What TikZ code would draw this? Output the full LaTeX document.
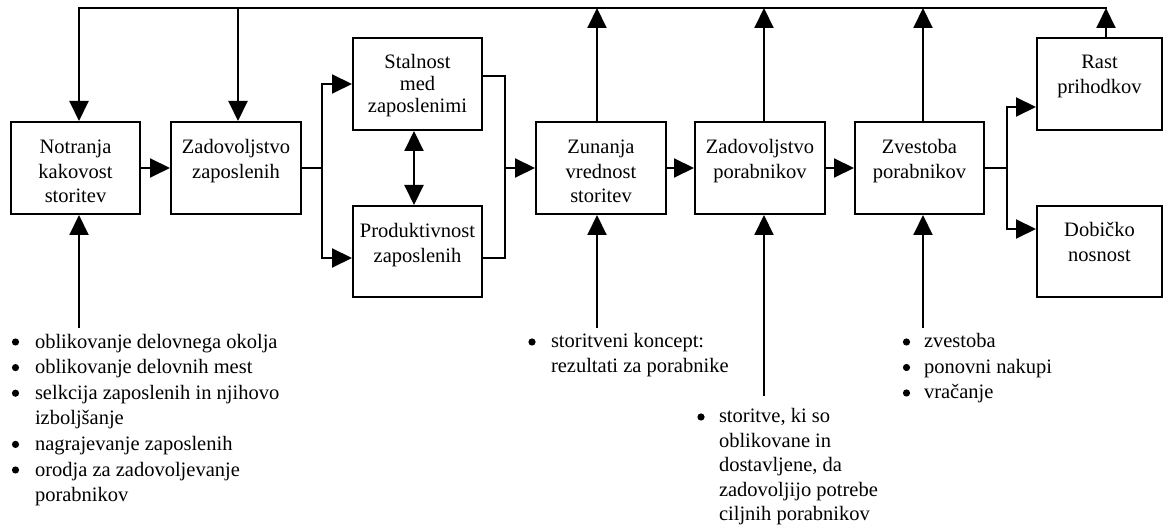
\documentclass[tikz,border=0pt]{standalone}
\usepackage{fontspec}
\setmainfont{Liberation Serif}
\usetikzlibrary{arrows.meta}
\begin{document}
\begin{tikzpicture}[x=1pt,y=-1pt,line width=2pt,line cap=rect,
  box/.style={draw,line width=2pt,inner sep=0pt},
  btxt/.style={font=\fontsize{20.5}{24.5}\selectfont,align=center,inner sep=0pt,anchor=north},
  ltxt/.style={align=left,inner sep=0pt,anchor=north west},
  arr/.style={-{Triangle[length=20pt,width=19pt]}},
  darr/.style={{Triangle[length=20pt,width=19pt]}-{Triangle[length=20pt,width=19pt]}}]
\useasboundingbox (0,0) rectangle (1163,526);
% boxes
\node[box,minimum width=129pt,minimum height=92pt] (n1) at (75.5,168) {};
\node[box,minimum width=130pt,minimum height=92pt] (n2) at (236,168) {};
\node[box,minimum width=129pt,minimum height=92pt] (n3) at (417.5,84) {};
\node[box,minimum width=129pt,minimum height=91pt] (n4) at (417.5,251.5) {};
\node[box,minimum width=130pt,minimum height=92pt] (n5) at (601,168) {};
\node[box,minimum width=130pt,minimum height=92pt] (n6) at (760,168) {};
\node[box,minimum width=129pt,minimum height=92pt] (n7) at (919.5,168) {};
\node[box,minimum width=125pt,minimum height=92pt] (n8) at (1099.5,84) {};
\node[box,minimum width=125pt,minimum height=91pt] (n9) at (1099.5,251.5) {};
% box texts
\node[btxt] (n1t) at (75.5,138) {\rule{0pt}{15pt}Notranja\\kakovost\\storitev};
\node[btxt] (n2t) at (236,138) {\rule{0pt}{15pt}Zadovoljstvo\\zaposlenih};
\node[btxt,font=\fontsize{20.5}{22}\selectfont] (n3t) at (417.5,53) {\rule{0pt}{15pt}Stalnost\\med\\zaposlenimi};
\node[btxt] (n4t) at (417.5,222) {\rule{0pt}{15pt}Produktivnost\\zaposlenih};
\node[btxt] (n5t) at (601,138) {\rule{0pt}{15pt}Zunanja\\vrednost\\storitev};
\node[btxt] (n6t) at (760,138) {\rule{0pt}{15pt}Zadovoljstvo\\porabnikov};
\node[btxt] (n7t) at (919.5,138) {\rule{0pt}{15pt}Zvestoba\\porabnikov};
\node[btxt] (n8t) at (1099.5,53) {\rule{0pt}{15pt}Rast\\prihodkov};
\node[btxt] (n9t) at (1099.5,221) {\rule{0pt}{15pt}Dobičko\\nosnost};
% bullet lists
\node[ltxt,font=\fontsize{20.5}{25.6}\selectfont] (l1) at (34,332) {\rule{0pt}{15pt}oblikovanje delovnega okolja\\oblikovanje delovnih mest\\selkcija zaposlenih in njihovo\\izboljšanje\\nagrajevanje zaposlenih\\orodja za zadovoljevanje\\porabnikov};
\node[ltxt,font=\fontsize{20.5}{25}\selectfont] (l2) at (550,332) {\rule{0pt}{15pt}storitveni koncept:\\rezultati za porabnike};
\node[ltxt,font=\fontsize{20.5}{24.5}\selectfont] (l3) at (718,407) {\rule{0pt}{15pt}storitve, ki so\\oblikovane in\\dostavljene, da\\zadovoljijo potrebe\\ciljnih porabnikov};
\node[ltxt,font=\fontsize{20.5}{25.5}\selectfont] (l4) at (923,332) {\rule{0pt}{15pt}zvestoba\\ponovni nakupi\\vračanje};
\foreach \y in {342,367.6,393.2,444.4,470} \fill (15.5,\y) circle (3.6pt);
\fill (532,342) circle (3.6pt);
\fill (701,417) circle (3.6pt);
\foreach \y in {342,367.5,393} \fill (906.5,\y) circle (3.6pt);
% feedback line on top
\coordinate (t1) at (79,8);
\coordinate (t2) at (238,8);
\coordinate (t5) at (597,8);
\coordinate (t6) at (764,8);
\coordinate (t7) at (923,8);
\coordinate (t8) at (1106,8);
\draw (t1) -- (t8);
\draw[arr] (t1) -- (t1 |- n1.north);
\draw[arr] (t2) -- (t2 |- n2.north);
\draw[arr] (t5 |- n5.north) -- (t5);
\draw[arr] (t6 |- n6.north) -- (t6);
\draw[arr] (t7 |- n7.north) -- (t7);
\draw[arr] (t8 |- n8.north) -- (t8);
% inputs from below
\coordinate (b1) at (79,327);
\coordinate (b5) at (597,327);
\coordinate (b6) at (764,395);
\coordinate (b7) at (923,327);
\draw[arr] (b1) -- (b1 |- n1.south);
\draw[arr] (b5) -- (b5 |- n5.south);
\draw[arr] (b6) -- (b6 |- n6.south);
\draw[arr] (b7) -- (b7 |- n7.south);
% main chain
\draw[arr] (n1.east) -- (n2.west);
\coordinate (s0) at (322,168);
\coordinate (s1) at (322,84);
\coordinate (s2) at (322,258);
\draw (n2.east) -- (s0);
\draw (s1) -- (s2);
\draw[arr] (s1) -- (s1 -| n3.west);
\draw[arr] (s2) -- (s2 -| n4.west);
\draw[darr] ([xshift=-3.5pt]n3.south) -- ([xshift=-3.5pt]n4.north);
\coordinate (m0) at (505,168);
\coordinate (m1) at (505,76);
\coordinate (m2) at (505,258);
\draw (m1 -| n3.east) -- (m1) -- (m2) -- (m2 -| n4.east);
\draw[arr] (m0) -- (n5.west);
\draw[arr] (n5.east) -- (n6.west);
\draw[arr] (n6.east) -- (n7.west);
\coordinate (r0) at (1007,168);
\coordinate (r1) at (1007,107);
\coordinate (r2) at (1007,229);
\draw (n7.east) -- (r0);
\draw (r1) -- (r2);
\draw[arr] (r1) -- (r1 -| n8.west);
\draw[arr] (r2) -- (r2 -| n9.west);
\end{tikzpicture}
\end{document}
